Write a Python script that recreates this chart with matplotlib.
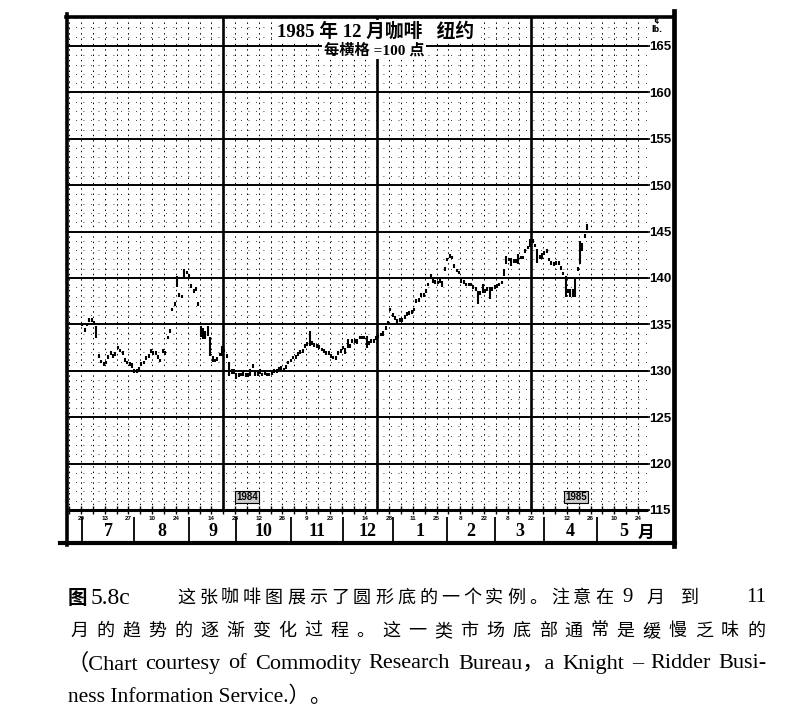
import numpy as np
import matplotlib.pyplot as plt
from matplotlib.lines import Line2D

W, H = 787, 721
PX_DAY = 2.37      # pixels per trading day
PX_PT = 9.28       # pixels per cent

# daily bars, first bar is trading day 6 counted from Fri 1984-06-22
first_day = 6
highs = [135.2, 134.6, 135.2, 135.7,
         135.7, 135.4, 134.8, 131.8, 131.2,
         130.9, 131.1, 131.7, 132.1, 131.8,
         132.0, 132.7, 132.4, 132.1, 131.4,
         131.1, 130.9, 130.8, 130.2, 130.2,
         130.4, 130.9, 131.1, 131.6, 131.8,
         132.3, 132.1, 132.1, 131.7, 131.3,
         132.3, 132.1, 133.8, 134.5, 136.8,
         137.4, 140.2, 138.4, 138.2, 141.0,
         140.8, 140.4, 139.3, 138.8, 139.0,
         137.4, 134.8, 134.6, 134.3, 134.8,
         133.6, 131.6, 131.3, 131.5, 131.9,
         132.7, 132.4, 131.8, 130.9, 130.2,
         130.2, 129.8, 129.8, 129.8, 130.0,
         129.8, 129.8, 130.2, 130.7, 130.0,
         130.0, 130.2, 129.8, 129.9, 129.8,
         129.8, 129.9, 130.2, 130.2, 130.4,
         130.5, 130.3, 130.6, 131.1, 131.3,
         131.6, 131.7, 132.0, 132.2, 132.3,
         132.9, 133.1, 134.3, 133.2, 133.0,
         132.9, 132.8, 132.5, 132.3, 132.1,
         132.1, 131.8, 131.6, 131.6, 132.1,
         132.3, 132.7, 132.5, 133.4, 132.9,
         133.4, 133.4, 133.4, 133.8, 133.8,
         133.8, 133.8, 133.2, 133.4, 133.4,
         133.7, 133.9, 134.1, 134.3, 134.8,
         135.4, 136.8, 136.2, 135.9, 135.6,
         135.7, 135.7, 136.0, 136.3, 136.4,
         136.5, 136.8, 137.7, 137.8, 138.4,
         138.4, 138.8, 139.5, 140.4, 139.9,
         139.8, 139.7, 139.9, 139.7, 141.2,
         142.2, 142.6, 142.4, 141.5, 141.0,
         140.8, 140.0, 139.8, 139.5, 139.5,
         139.5, 139.2, 139.0, 138.6, 138.6,
         139.3, 138.8, 139.0, 139.0, 139.0,
         139.2, 139.3, 139.5, 139.7, 141.0,
         142.4, 142.2, 142.2, 142.0, 142.0,
         142.6, 142.4, 142.4, 143.1, 143.5,
         144.2, 144.2, 143.7, 143.1, 142.5,
         142.7, 142.9, 143.1, 142.2, 141.8,
         141.7, 141.8, 141.8, 141.3, 140.7,
         140.2, 138.8, 138.8, 138.8, 140.0,
         141.2, 144.0, 143.8, 144.7, 145.8]
lows = [134.8, 134.2, 134.8, 135.3,
        135.3, 135.0, 133.5, 131.4, 130.8,
        130.5, 130.7, 131.3, 131.7, 131.4,
        131.6, 132.3, 132.0, 131.7, 131.0,
        130.7, 130.5, 130.3, 129.8, 129.8,
        130.0, 130.5, 130.7, 131.2, 131.4,
        131.9, 131.7, 131.7, 131.3, 130.9,
        131.9, 131.7, 133.4, 134.1, 136.4,
        137.0, 139.0, 138.0, 137.8, 140.0,
        140.4, 140.0, 138.9, 138.4, 138.6,
        137.0, 133.6, 133.4, 133.4, 133.8,
        131.6, 130.9, 130.9, 131.1, 131.6,
        131.6, 132.0, 131.4, 129.4, 129.7,
        129.7, 129.1, 129.3, 129.4, 129.4,
        129.3, 129.3, 129.4, 130.3, 129.4,
        129.4, 129.7, 129.4, 129.5, 129.4,
        129.4, 129.5, 129.8, 129.8, 130.0,
        130.0, 129.9, 130.2, 130.7, 130.9,
        131.3, 131.3, 131.6, 131.8, 131.9,
        132.5, 132.7, 132.7, 132.8, 132.6,
        132.5, 132.4, 132.1, 131.9, 131.7,
        131.7, 131.4, 131.3, 131.2, 131.7,
        131.9, 132.3, 131.8, 132.5, 132.5,
        133.0, 133.0, 132.9, 133.4, 133.4,
        133.4, 132.5, 132.8, 133.0, 133.0,
        133.3, 133.5, 133.7, 133.8, 134.4,
        135.0, 136.4, 135.8, 135.5, 135.2,
        135.3, 135.3, 135.6, 135.9, 136.0,
        136.1, 136.4, 137.3, 137.4, 138.0,
        138.0, 138.4, 139.1, 140.0, 139.5,
        139.4, 139.3, 139.5, 139.0, 140.8,
        141.8, 142.2, 142.0, 141.1, 140.6,
        140.4, 139.5, 139.4, 139.1, 139.1,
        139.1, 138.8, 138.6, 137.2, 138.2,
        138.4, 138.4, 138.6, 137.7, 138.6,
        138.8, 138.9, 139.1, 139.3, 140.2,
        141.5, 141.8, 141.3, 141.6, 141.6,
        141.5, 142.0, 142.0, 142.7, 143.1,
        143.3, 143.8, 143.3, 141.6, 142.1,
        142.0, 142.5, 142.7, 141.8, 141.4,
        141.3, 141.4, 141.4, 140.9, 140.3,
        138.0, 138.4, 138.0, 138.0, 137.9,
        140.8, 141.5, 142.9, 144.3, 145.2]

price_labels = [115, 120, 125, 130, 135, 140, 145, 150, 155, 160, 165]
ref_date = '1984-06-22'
friday_dates = ['1984-06-29', '1984-07-13', '1984-07-27', '1984-08-10', '1984-08-24',
                '1984-09-14', '1984-09-28', '1984-10-12', '1984-10-26', '1984-11-09',
                '1984-11-23', '1984-12-14', '1984-12-28', '1985-01-11', '1985-01-25',
                '1985-02-08', '1985-02-22', '1985-03-08', '1985-03-22', '1985-04-12',
                '1985-04-26', '1985-05-10', '1985-05-24']
month_starts = ['1984-07-01', '1984-08-01', '1984-09-01', '1984-10-01', '1984-11-01',
                '1984-12-01', '1985-01-01', '1985-02-01', '1985-03-01', '1985-04-01',
                '1985-05-01', '1985-06-01']
month_names = ['7', '8', '9', '10', '11', '12', '1', '2', '3', '4', '5']

title = '1985 年 12 月咖啡   纽约'
subtitle = '每横格 =100 点'
cap1_a = '这张咖啡图展示了圆形底的一个实例。注意在'
cap2 = '月的趋势的逐渐变化过程。这一类市场底部通常是缓慢乏味的'
cap3 = '（Chart courtesy of Commodity Research Bureau，a Knight – Ridder Busi-'
cap4 = 'ness Information Service.）。'

SERIF = ['Liberation Serif', 'Noto Sans CJK SC']
CJK = ['Noto Sans CJK SC', 'DejaVu Sans']
SANS = ['Liberation Sans', 'DejaVu Sans']


def fx(px):
    return px / W


def fy(py):
    return 1 - py / H


fig = plt.figure(figsize=(W / 100, H / 100), dpi=100)
fig.patch.set_facecolor('white')

x_max = (648 - 68) / PX_DAY
y_top = 115 + (510 - 17) / PX_PT
ax = fig.add_axes([fx(68), fy(510), fx(648) - fx(68), fy(17) - fy(510)])
ax.set_xlim(0, x_max)
ax.set_ylim(115, y_top)
for s in ax.spines.values():
    s.set_visible(False)

# grid: weekly dotted verticals, one-cent dotted horizontals
week_lines = np.arange(0.5, x_max, 5)
ax.vlines(week_lines, 115, y_top, colors='black', lw=0.7, linestyles=(0, (1.5, 4)))
ax.vlines([65.5, 130.5, 195.5], 115, y_top, colors='black', lw=1.9)
cents = [c for c in range(116, 169) if c % 5 != 0]
ax.hlines(cents, 0, x_max, colors='black', lw=0.6, linestyles=(0, (1, 8)))
ax.hlines(price_labels[1:], 0, x_max, colors='black', lw=1.4)
ax.hlines(115, 0, x_max, colors='black', lw=2.2, clip_on=False)

# price bars
days = np.arange(first_day, first_day + len(highs))
ax.vlines(days, lows, highs, colors='black', lw=1.5)

# right price scale
ax.yaxis.tick_right()
ax.set_yticks(price_labels)
ax.set_yticklabels([str(p) for p in price_labels])
ax.tick_params(axis='y', length=1.5, width=1.2, pad=-0.5, labelsize=9.5)
for lab in ax.get_yticklabels():
    lab.set_fontfamily(SANS)
    lab.set_fontweight('bold')

# week ticks on the bottom line
ax.set_xticks(week_lines)
ax.tick_params(axis='x', direction='inout', length=6, width=1.0, labelbottom=False)

# day labels and month strip below the grid
tr = ax.get_xaxis_transform()
fri_pos = np.busday_count(ref_date, friday_dates) + 0.5
for d, p in zip(friday_dates, fri_pos):
    ax.text(p, -0.018, str(int(d[-2:])), transform=tr, ha='center', va='center',
            fontsize=4.5, fontweight='bold', family=SANS, clip_on=False)

bounds = np.busday_count(ref_date, month_starts)
ax.vlines(bounds[:-1], -0.015, -0.067, transform=tr, colors='black', lw=1.3, clip_on=False)
for i, name in enumerate(month_names):
    mid = (bounds[i] + bounds[i + 1]) / 2
    ax.text(mid, -0.044, name, transform=tr, ha='center', va='center',
            fontsize=13, fontweight='bold', family=SERIF, clip_on=False)
fig.text(fx(646), fy(533), '月', ha='center', va='center', fontsize=12,
         fontweight='bold', family=CJK)

# frame
for x0, y0, x1, y1, lw in [(67, 14, 67, 545, 2.6), (66, 17, 674, 17, 2.6),
                           (674, 11, 674, 546, 3.4), (60, 543, 675, 543, 3.0)]:
    fig.add_artist(Line2D([fx(x0), fx(x1)], [fy(y0), fy(y1)], color='black', lw=lw))

# titles
fig.text(fx(376), fy(31), title, ha='center', va='center', fontsize=13.5,
         fontweight='bold', family=SERIF,
         bbox=dict(boxstyle='square,pad=0.1', fc='white', ec='none'))
fig.text(fx(374), fy(50), subtitle, ha='center', va='center', fontsize=11,
         fontweight='bold', family=SERIF,
         bbox=dict(boxstyle='square,pad=0.1', fc='white', ec='none'))
fig.text(fx(656), fy(20), '¢', ha='center', va='center', fontsize=6, fontweight='bold')
fig.text(fx(657), fy(29), 'lb.', ha='center', va='center', fontsize=5.5, fontweight='bold')

for txt, xp in [('1984', 247), ('1985', 576)]:
    fig.text(fx(xp), fy(497), txt, ha='center', va='center', fontsize=7, fontweight='bold',
             family=SANS,
             bbox=dict(boxstyle='square,pad=0.12', fc='0.8', ec='black', lw=0.8))


# caption
def spread(text, x0, x1, y, **kw):
    step = (x1 - x0) / (len(text) - 1)
    for i, ch in enumerate(text):
        fig.text(fx(x0 + i * step), fy(y), ch, ha='center', va='center', **kw)


def justify(text, x0, x1, y, **kw):
    # spread the words of one line so that it fills x0..x1
    rend = fig.canvas.get_renderer()
    words = text.split(' ')
    objs = [fig.text(0, fy(y), w, ha='left', va='center', **kw) for w in words]
    widths = [o.get_window_extent(rend).width for o in objs]
    gap = (x1 - x0 - sum(widths)) / (len(words) - 1)
    x = x0
    for o, w in zip(objs, widths):
        o.set_x(fx(x))
        x += w + gap


cap_kw = dict(fontsize=13, family=CJK)
fig.text(fx(68), fy(598), '图', ha='left', va='center', fontsize=14, fontweight='bold', family=CJK)
fig.text(fx(91), fy(598), '5.8c', ha='left', va='center', fontsize=17, family=SERIF)
spread(cap1_a, 186, 604, 598, **cap_kw)
fig.text(fx(628), fy(598), '9', ha='center', va='center', fontsize=15, family=SERIF)
spread('月到', 655, 690, 598, **cap_kw)
fig.text(fx(766), fy(598), '11', ha='right', va='center', fontsize=15, family=SERIF)
spread(cap2, 79, 756, 631, **cap_kw)
justify(cap3, 66, 767, 664, fontsize=16, family=SERIF)
fig.text(fx(68), fy(697), cap4, ha='left', va='center', fontsize=15.5, family=SERIF)

fig.savefig('out.png', dpi=100)
